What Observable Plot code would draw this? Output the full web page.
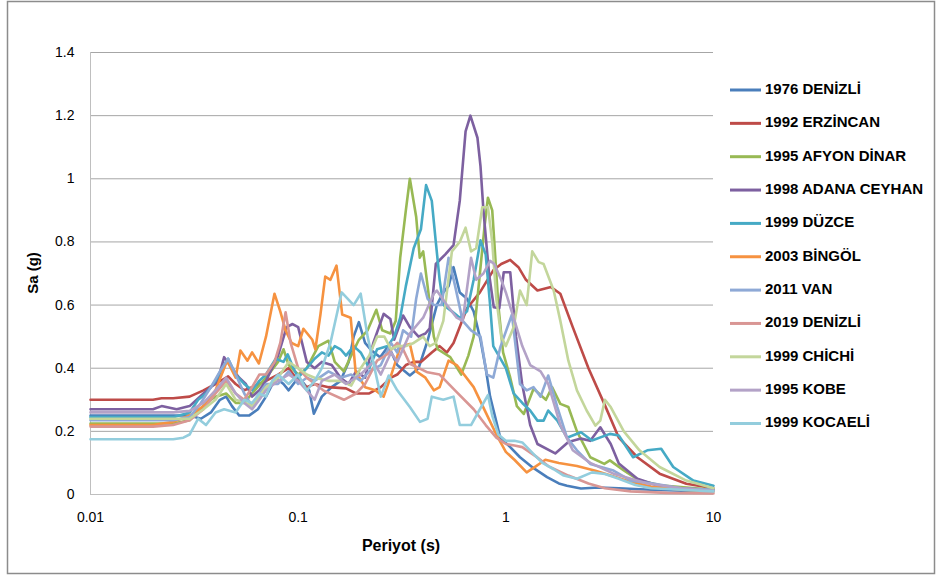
<!DOCTYPE html>
<html>
<head>
<meta charset="utf-8">
<script src="https://cdn.jsdelivr.net/npm/d3@7"></script>
<script src="https://cdn.jsdelivr.net/npm/@observablehq/plot@0.6"></script>
<style>
  html, body { margin: 0; padding: 0; background: #fff; }
  #chart { width: 936px; height: 576px; }
</style>
</head>
<body>
<div id="chart"></div>
<script>
// ---- Data (period in s, Sa in g) ----
const seriesNames = ["1976 DENİZLİ","1992 ERZİNCAN","1995 AFYON DİNAR","1998 ADANA CEYHAN","1999 DÜZCE","2003 BİNGÖL","2011 VAN","2019 DENİZLİ","1999 CHİCHİ","1995 KOBE","1999 KOCAELİ"];
const seriesColors = ["#4A7EBB","#BE4B48","#98B954","#7D60A0","#46AAC5","#F69240","#8EA9D6","#D99694","#C3D69B","#B3A2C7","#93CDDD"];
const xTicks = [0.01, 0.1, 1, 10];
const yTicks = [0, 0.2, 0.4, 0.6, 0.8, 1, 1.2, 1.4];

const denizli1976 = [[0.01,0.25],[0.02,0.25],[0.03,0.25],[0.034,0.24],[0.038,0.26],[0.042,0.30],[0.045,0.31],[0.048,0.28],[0.052,0.25],[0.058,0.25],[0.064,0.27],[0.07,0.31],[0.078,0.37],[0.085,0.35],[0.09,0.33],[0.1,0.37],[0.107,0.35],[0.113,0.33],[0.119,0.256],[0.13,0.31],[0.145,0.34],[0.16,0.36],[0.175,0.42],[0.185,0.50],[0.196,0.546],[0.21,0.48],[0.226,0.456],[0.248,0.435],[0.272,0.47],[0.3,0.41],[0.345,0.377],[0.38,0.40],[0.42,0.487],[0.465,0.60],[0.5,0.64],[0.53,0.66],[0.56,0.72],[0.6,0.64],[0.65,0.62],[0.7,0.58],[0.755,0.49],[0.8,0.40],[0.84,0.31],[0.94,0.18],[1.05,0.15],[1.17,0.118],[1.35,0.085],[1.58,0.055],[1.8,0.035],[1.97,0.028],[2.3,0.019],[2.8,0.022],[3.5,0.02],[5,0.015],[7,0.012],[10,0.01]];
const erzincan1992 = [[0.01,0.30],[0.02,0.30],[0.022,0.305],[0.025,0.305],[0.03,0.31],[0.035,0.33],[0.04,0.35],[0.046,0.374],[0.05,0.35],[0.055,0.33],[0.06,0.34],[0.07,0.36],[0.08,0.38],[0.09,0.40],[0.1,0.36],[0.11,0.34],[0.12,0.35],[0.14,0.34],[0.17,0.336],[0.19,0.32],[0.22,0.32],[0.25,0.34],[0.28,0.37],[0.3,0.38],[0.33,0.41],[0.36,0.42],[0.39,0.42],[0.44,0.45],[0.48,0.47],[0.52,0.45],[0.56,0.48],[0.65,0.59],[0.75,0.64],[0.87,0.71],[0.95,0.73],[1.05,0.743],[1.15,0.72],[1.25,0.68],[1.42,0.646],[1.65,0.657],[1.83,0.636],[2.1,0.53],[2.5,0.40],[2.98,0.287],[3.5,0.18],[4.3,0.118],[5.5,0.066],[7.4,0.034],[10,0.02]];
const afyon1995 = [[0.01,0.225],[0.025,0.225],[0.03,0.235],[0.033,0.26],[0.036,0.29],[0.04,0.31],[0.045,0.32],[0.05,0.29],[0.055,0.29],[0.06,0.32],[0.07,0.37],[0.08,0.42],[0.085,0.46],[0.09,0.41],[0.1,0.38],[0.11,0.40],[0.125,0.47],[0.14,0.487],[0.15,0.42],[0.166,0.39],[0.18,0.44],[0.196,0.49],[0.216,0.52],[0.238,0.585],[0.254,0.52],[0.278,0.51],[0.295,0.55],[0.31,0.75],[0.33,0.90],[0.345,1.0],[0.37,0.88],[0.385,0.75],[0.40,0.77],[0.42,0.66],[0.45,0.50],[0.47,0.46],[0.54,0.435],[0.61,0.38],[0.66,0.44],[0.70,0.50],[0.75,0.70],[0.79,0.85],[0.82,0.94],[0.86,0.90],[0.88,0.80],[0.92,0.60],[0.97,0.45],[1.05,0.37],[1.13,0.28],[1.22,0.255],[1.36,0.335],[1.56,0.30],[1.67,0.34],[1.83,0.287],[2.0,0.277],[2.2,0.20],[2.55,0.118],[2.98,0.097],[3.17,0.108],[3.7,0.076],[4.4,0.044],[5.7,0.028],[10,0.015]];
const adana1998 = [[0.01,0.27],[0.02,0.27],[0.022,0.28],[0.026,0.27],[0.03,0.28],[0.035,0.32],[0.038,0.34],[0.041,0.36],[0.044,0.435],[0.048,0.40],[0.052,0.37],[0.056,0.35],[0.06,0.31],[0.065,0.33],[0.07,0.36],[0.08,0.44],[0.088,0.53],[0.094,0.54],[0.1,0.53],[0.11,0.42],[0.12,0.40],[0.13,0.42],[0.145,0.41],[0.16,0.37],[0.175,0.35],[0.19,0.39],[0.21,0.37],[0.23,0.48],[0.258,0.572],[0.278,0.556],[0.29,0.49],[0.32,0.567],[0.345,0.53],[0.38,0.50],[0.41,0.51],[0.43,0.526],[0.46,0.73],[0.51,0.76],[0.56,0.79],[0.6,0.93],[0.64,1.15],[0.675,1.20],[0.73,1.13],[0.755,1.04],[0.78,0.90],[0.83,0.70],[0.875,0.593],[0.93,0.59],[0.977,0.704],[1.05,0.704],[1.12,0.50],[1.198,0.35],[1.31,0.22],[1.42,0.16],[1.73,0.13],[2.0,0.166],[2.3,0.177],[2.55,0.17],[2.85,0.213],[3.2,0.16],[3.5,0.098],[4.3,0.05],[5.7,0.023],[10,0.013]];
const duzce1999 = [[0.01,0.245],[0.025,0.245],[0.03,0.26],[0.033,0.30],[0.036,0.32],[0.04,0.36],[0.043,0.40],[0.046,0.43],[0.05,0.38],[0.055,0.35],[0.06,0.33],[0.065,0.36],[0.07,0.38],[0.078,0.43],[0.085,0.42],[0.089,0.444],[0.095,0.40],[0.1,0.37],[0.11,0.40],[0.12,0.43],[0.13,0.45],[0.14,0.44],[0.15,0.47],[0.16,0.46],[0.17,0.44],[0.185,0.47],[0.2,0.45],[0.22,0.40],[0.24,0.46],[0.27,0.47],[0.29,0.50],[0.31,0.56],[0.33,0.66],[0.36,0.78],[0.39,0.84],[0.413,0.98],[0.44,0.93],[0.46,0.80],[0.48,0.68],[0.5,0.60],[0.55,0.58],[0.6,0.56],[0.65,0.58],[0.7,0.68],[0.755,0.805],[0.8,0.76],[0.84,0.60],[0.87,0.47],[1.0,0.40],[1.09,0.32],[1.2,0.29],[1.31,0.266],[1.42,0.234],[1.52,0.234],[1.6,0.266],[1.77,0.234],[1.97,0.18],[2.3,0.197],[2.6,0.171],[3.17,0.192],[3.5,0.187],[4.1,0.118],[4.8,0.14],[5.6,0.145],[6.4,0.087],[8,0.044],[10,0.028]];
const bingol2003 = [[0.01,0.22],[0.02,0.22],[0.025,0.23],[0.03,0.25],[0.035,0.28],[0.04,0.33],[0.0455,0.424],[0.05,0.37],[0.0527,0.456],[0.057,0.424],[0.06,0.45],[0.0647,0.415],[0.07,0.50],[0.0769,0.636],[0.082,0.58],[0.087,0.52],[0.093,0.48],[0.1,0.47],[0.106,0.525],[0.117,0.49],[0.121,0.46],[0.128,0.57],[0.135,0.69],[0.143,0.68],[0.153,0.725],[0.163,0.57],[0.179,0.56],[0.189,0.39],[0.21,0.34],[0.235,0.33],[0.258,0.31],[0.278,0.37],[0.31,0.467],[0.345,0.477],[0.37,0.39],[0.41,0.37],[0.45,0.33],[0.48,0.34],[0.53,0.424],[0.58,0.41],[0.7,0.34],[0.8,0.26],[0.9,0.19],[1.0,0.135],[1.1,0.11],[1.26,0.07],[1.4,0.09],[1.55,0.11],[1.8,0.10],[2.2,0.09],[2.7,0.075],[3.2,0.06],[4.0,0.04],[5,0.025],[7,0.015],[10,0.01]];
const van2011 = [[0.01,0.235],[0.025,0.235],[0.03,0.245],[0.034,0.29],[0.038,0.34],[0.042,0.39],[0.046,0.43],[0.05,0.38],[0.055,0.32],[0.06,0.28],[0.065,0.32],[0.07,0.35],[0.08,0.35],[0.09,0.39],[0.1,0.35],[0.11,0.37],[0.12,0.36],[0.14,0.39],[0.16,0.37],[0.18,0.38],[0.2,0.36],[0.22,0.39],[0.25,0.41],[0.28,0.48],[0.3,0.45],[0.32,0.52],[0.35,0.50],[0.37,0.62],[0.39,0.70],[0.42,0.62],[0.45,0.60],[0.49,0.60],[0.53,0.75],[0.57,0.66],[0.62,0.55],[0.68,0.52],[0.755,0.50],[0.81,0.38],[0.87,0.37],[0.94,0.466],[1.07,0.57],[1.17,0.35],[1.26,0.33],[1.36,0.34],[1.47,0.31],[1.6,0.377],[1.77,0.277],[1.97,0.18],[2.2,0.14],[2.55,0.097],[3.3,0.076],[4,0.044],[5.2,0.034],[7,0.02],[10,0.015]];
const denizli2019 = [[0.01,0.215],[0.02,0.215],[0.025,0.22],[0.03,0.235],[0.035,0.27],[0.04,0.32],[0.045,0.36],[0.05,0.32],[0.055,0.30],[0.06,0.34],[0.065,0.38],[0.07,0.38],[0.077,0.42],[0.082,0.48],[0.087,0.577],[0.092,0.48],[0.1,0.40],[0.11,0.37],[0.132,0.33],[0.166,0.30],[0.19,0.32],[0.21,0.35],[0.24,0.424],[0.27,0.445],[0.30,0.48],[0.32,0.46],[0.345,0.414],[0.42,0.387],[0.48,0.38],[0.58,0.324],[0.7,0.27],[0.8,0.22],[0.9,0.18],[1.0,0.16],[1.1,0.155],[1.2,0.15],[1.4,0.12],[1.6,0.09],[2.0,0.06],[2.5,0.035],[3.0,0.02],[4.0,0.01],[6,0.005],[10,0.003]];
const chichi1999 = [[0.01,0.24],[0.03,0.24],[0.035,0.27],[0.04,0.30],[0.045,0.35],[0.05,0.30],[0.056,0.29],[0.06,0.28],[0.07,0.34],[0.08,0.37],[0.09,0.42],[0.1,0.40],[0.11,0.38],[0.12,0.37],[0.14,0.36],[0.16,0.36],[0.18,0.345],[0.2,0.40],[0.22,0.44],[0.24,0.50],[0.26,0.50],[0.28,0.46],[0.3,0.47],[0.33,0.47],[0.36,0.48],[0.4,0.50],[0.43,0.47],[0.46,0.48],[0.5,0.55],[0.55,0.77],[0.6,0.80],[0.64,0.845],[0.68,0.77],[0.72,0.78],[0.77,0.91],[0.82,0.91],[0.86,0.80],[0.9,0.62],[0.95,0.50],[1.0,0.47],[1.09,0.53],[1.17,0.646],[1.26,0.60],[1.34,0.77],[1.44,0.736],[1.52,0.73],[1.7,0.646],[1.83,0.55],[2.0,0.424],[2.2,0.33],[2.45,0.266],[2.7,0.218],[2.85,0.234],[3.0,0.30],[3.2,0.277],[3.7,0.20],[4.4,0.14],[5.5,0.087],[7.4,0.044],[10,0.02]];
const kobe1995 = [[0.01,0.26],[0.025,0.26],[0.03,0.265],[0.035,0.29],[0.04,0.33],[0.045,0.37],[0.05,0.32],[0.055,0.29],[0.06,0.27],[0.065,0.30],[0.07,0.33],[0.08,0.36],[0.09,0.38],[0.1,0.36],[0.11,0.33],[0.12,0.30],[0.13,0.36],[0.15,0.38],[0.17,0.35],[0.2,0.38],[0.23,0.42],[0.25,0.38],[0.28,0.45],[0.3,0.42],[0.345,0.51],[0.4,0.56],[0.45,0.636],[0.465,0.646],[0.52,0.60],[0.58,0.56],[0.62,0.55],[0.68,0.75],[0.72,0.68],[0.78,0.70],[0.84,0.74],[0.88,0.73],[0.95,0.68],[1.0,0.64],[1.09,0.56],[1.2,0.47],[1.31,0.41],[1.47,0.39],[1.6,0.35],[1.83,0.22],[2.1,0.14],[2.55,0.10],[3.3,0.066],[4.8,0.035],[7,0.02],[10,0.012]];
const kocaeli1999 = [[0.01,0.175],[0.025,0.175],[0.028,0.18],[0.03,0.19],[0.033,0.24],[0.036,0.22],[0.04,0.26],[0.044,0.27],[0.05,0.26],[0.055,0.30],[0.06,0.29],[0.065,0.32],[0.07,0.31],[0.075,0.36],[0.08,0.38],[0.09,0.35],[0.1,0.38],[0.11,0.33],[0.12,0.36],[0.13,0.40],[0.143,0.48],[0.162,0.64],[0.185,0.60],[0.2,0.636],[0.216,0.50],[0.25,0.31],[0.273,0.377],[0.30,0.33],[0.345,0.277],[0.386,0.23],[0.42,0.24],[0.44,0.31],[0.5,0.30],[0.56,0.31],[0.6,0.22],[0.68,0.22],[0.75,0.27],[0.82,0.315],[0.86,0.25],[0.92,0.19],[1.0,0.17],[1.1,0.17],[1.2,0.165],[1.35,0.13],[1.5,0.10],[1.7,0.08],[1.9,0.06],[2.2,0.05],[2.6,0.07],[3.0,0.065],[3.5,0.05],[4.2,0.03],[5,0.02],[7,0.015],[10,0.01]];

const seriesData = [denizli1976, erzincan1992, afyon1995, adana1998, duzce1999, bingol2003, van2011, denizli2019, chichi1999, kobe1995, kocaeli1999];

// ---- Build table ----
const rows = [];
seriesData.forEach((arr, i) => {
  arr.forEach(([T, sa]) => rows.push({series: seriesNames[i], T, sa, order: i}));
});

const FONT = "'Liberation Sans', Arial, sans-serif";
const W = 936, H = 576;
const mL = 90, mR = 223, mT = 52, mB = 82;
const xFmt = d => String(d);
const yFmt = d => String(+(+d).toFixed(1));

const chart = Plot.plot({
  width: W, height: H,
  marginLeft: mL, marginRight: mR, marginTop: mT, marginBottom: mB,
  style: {fontFamily: FONT, fontSize: "14px", background: "#fff", overflow: "visible"},
  x: {type: "log", domain: [0.01, 10], ticks: xTicks, tickFormat: xFmt, label: null},
  y: {domain: [0, 1.4], ticks: yTicks, tickFormat: yFmt, label: null},
  marks: [
    Plot.gridY(yTicks, {stroke: "#A6A6A6", strokeOpacity: 1, strokeWidth: 1}),
    Plot.ruleX([0.01], {stroke: "#BFBFBF", strokeWidth: 1}),
    Plot.ruleY([0], {stroke: "#BFBFBF", strokeWidth: 1}),
    ...seriesNames.map((name, i) =>
      Plot.line(rows.filter(r => r.series === name), {x: "T", y: "sa", stroke: seriesColors[i], strokeWidth: 2.6, strokeLinejoin: "round", strokeLinecap: "round"})
    ),
    Plot.axisX(xTicks, {tickSize: 0, tickPadding: 18, fontSize: 14, fill: "#000", tickFormat: xFmt, label: null}),
    Plot.axisY(yTicks, {tickSize: 0, tickPadding: 16, fontSize: 14, fill: "#000", tickFormat: yFmt, label: null})
  ]
});

const svg = d3.select(chart);
// outer border
svg.insert("rect", ":first-child")
  .attr("x", 7.5).attr("y", 1.5).attr("width", 927).attr("height", 572)
  .attr("fill", "none").attr("stroke", "#8C8C8C").attr("stroke-width", 1.5);

// axis titles
svg.append("text")
  .attr("x", 401).attr("y", 547).attr("text-anchor", "middle").attr("dominant-baseline", "middle")
  .attr("font-family", FONT).attr("font-weight", "bold").attr("font-size", 16).attr("fill", "#000")
  .text("Periyot (s)");
svg.append("text")
  .attr("transform", "translate(34,273) rotate(-90)").attr("text-anchor", "middle").attr("dominant-baseline", "middle")
  .attr("font-family", FONT).attr("font-weight", "bold").attr("font-size", 15).attr("fill", "#000")
  .text("Sa (g)");

// legend
const lg = svg.append("g").attr("text-anchor", "start");
seriesNames.forEach((name, i) => {
  const y = 90 + i * 33.35;
  lg.append("line").attr("x1", 730).attr("x2", 761).attr("y1", y).attr("y2", y)
    .attr("stroke", seriesColors[i]).attr("stroke-width", 3);
  lg.append("text").attr("x", 765).attr("y", y).attr("dominant-baseline", "middle").attr("text-anchor", "start")
    .attr("font-family", FONT).attr("font-weight", "bold").attr("font-size", 15).attr("fill", "#000")
    .text(name);
});

document.getElementById("chart").appendChild(chart);
</script>
</body>
</html>
